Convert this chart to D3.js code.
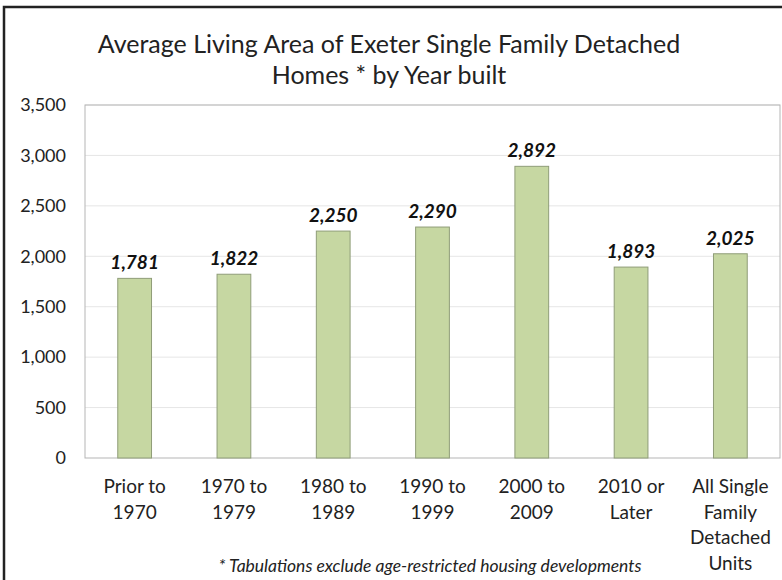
<!DOCTYPE html>
<html><head><meta charset="utf-8">
<script src="https://cdn.jsdelivr.net/npm/d3@7"></script>
<style>body{margin:0;background:#fff}svg{display:block}</style>
</head><body>
<script>
const categories = [["Prior to","1970"],["1970 to","1979"],["1980 to","1989"],["1990 to","1999"],["2000 to","2009"],["2010 or","Later"],["All Single","Family","Detached","Units"]];
const values = [1781,1822,2250,2290,2892,1893,2025];
const yTicks = [0,500,1000,1500,2000,2500,3000,3500];
const titleLines = ["Average Living Area of Exeter Single Family Detached","Homes * by Year built"];
const footnote = "* Tabulations exclude age-restricted housing developments";

const W=782,H=580;
const font="Lato, 'Open Sans', sans-serif";
const svg=d3.select("body").append("svg").attr("width",W).attr("height",H);
svg.append("rect").attr("width",W).attr("height",H).attr("fill","#fff");
// outer frame
svg.append("rect").attr("x",4).attr("y",7).attr("width",W+10).attr("height",H+10)
  .attr("fill","none").attr("stroke","#222").attr("stroke-width",2.5);

const m={l:85,r:780,t:105,b:458};
const x=d3.scaleBand().domain(d3.range(categories.length)).range([m.l,m.r]).paddingInner(0.66).paddingOuter(0.33);
const y=d3.scaleLinear().domain([0,3500]).range([m.b,m.t]);

// gridlines
svg.append("g").selectAll("line").data(yTicks.filter(d=>d>0)).join("line")
  .attr("x1",m.l).attr("x2",m.r).attr("y1",d=>y(d)).attr("y2",d=>y(d))
  .attr("stroke","#e6e6e6").attr("stroke-width",1);
// plot box
svg.append("rect").attr("x",m.l).attr("y",m.t).attr("width",m.r-m.l).attr("height",m.b-m.t)
  .attr("fill","none").attr("stroke","#b5b5b5").attr("stroke-width",1);

// y axis
const ya=svg.append("g").attr("transform",`translate(${m.l},0)`)
  .call(d3.axisLeft(y).tickValues(yTicks).tickFormat(d3.format(",")).tickSize(0).tickPadding(19));
ya.select(".domain").remove();
ya.selectAll("text").attr("font-family",font).attr("font-size",18).attr("fill","#222");

// bars
svg.append("g").selectAll("rect").data(values).join("rect")
  .attr("x",(d,i)=>x(i)).attr("width",x.bandwidth())
  .attr("y",d=>y(d)).attr("height",d=>y(0)-y(d))
  .attr("fill","#c6d7a2").attr("stroke","#8f9d78").attr("stroke-width",1);

// value labels
svg.append("g").selectAll("text").data(values).join("text")
  .attr("x",(d,i)=>x(i)+x.bandwidth()/2).attr("y",d=>y(d)-9)
  .attr("text-anchor","middle").attr("font-family",font).attr("font-size",19)
  .attr("font-weight","bold").attr("font-style","italic").attr("fill","#111")
  .text(d=>d3.format(",")(d));

// x labels
const xl=svg.append("g").selectAll("text").data(categories).join("text")
  .attr("text-anchor","middle").attr("font-family",font).attr("font-size",19).attr("fill","#222");
xl.each(function(lines,i){
  d3.select(this).selectAll("tspan").data(lines).join("tspan")
    .attr("x",x(i)+x.bandwidth()/2).attr("y",(d,j)=>493+j*25.6).text(d=>d);
});

// title
svg.append("g").selectAll("text").data(titleLines).join("text")
  .attr("x",389).attr("y",(d,i)=>53+i*31).attr("text-anchor","middle")
  .attr("font-family",font).attr("font-size",25).attr("fill","#222").text(d=>d);

// footnote
svg.append("text").attr("x",430).attr("y",572).attr("text-anchor","middle")
  .attr("font-family",font).attr("font-size",17.5).attr("font-style","italic").attr("fill","#222")
  .text(footnote);
</script>
</body></html>
